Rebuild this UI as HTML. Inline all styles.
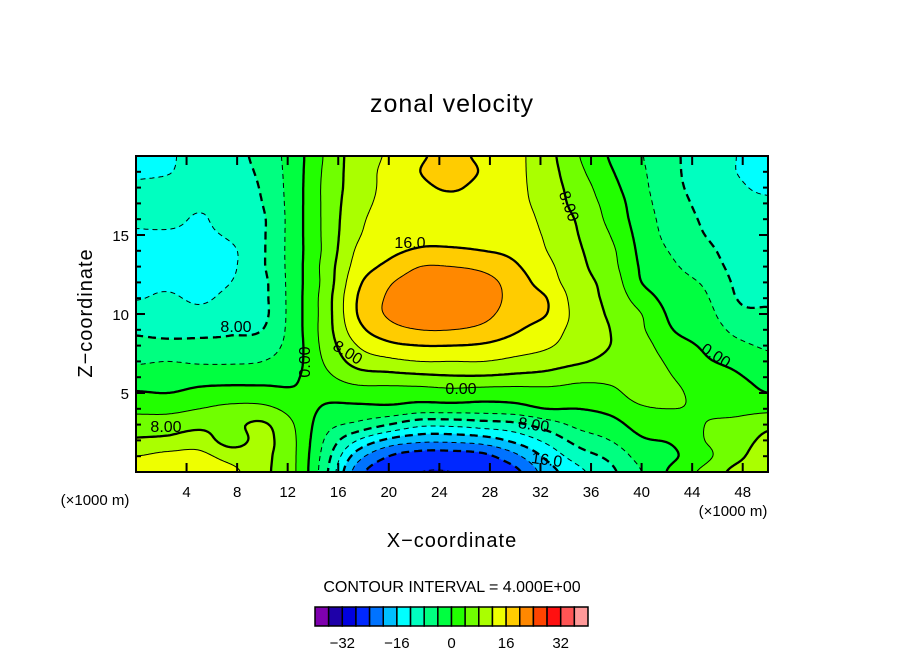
<!DOCTYPE html>
<html><head><meta charset="utf-8">
<style>
html,body{margin:0;padding:0;background:#fff;}
#wrap{position:relative;width:904px;height:654px;overflow:hidden;font-family:"Liberation Sans",sans-serif;}
#field{position:absolute;left:136px;top:156px;}
#over{position:absolute;left:0;top:0;}
text{font-family:"Liberation Sans",sans-serif;fill:#000;}
</style></head>
<body>
<div id="wrap">
<canvas id="field" width="632" height="316"></canvas>
<svg id="over" width="904" height="654">
  <text x="452" y="112" font-size="25" text-anchor="middle" letter-spacing="1">zonal velocity</text>
  <g id="lines"></g>
  <g id="clabels">
    <text x="166" y="432" font-size="16" text-anchor="middle">8.00</text>
    <text x="236" y="332" font-size="16" text-anchor="middle">8.00</text>
    <text x="410" y="248" font-size="16" text-anchor="middle">16.0</text>
    <text x="0" y="0" font-size="16" text-anchor="middle" transform="translate(310,362) rotate(-90)">0.00</text>
    <text x="0" y="0" font-size="16" text-anchor="middle" transform="translate(345,357) rotate(32)">8.00</text>
    <text x="461" y="394" font-size="16" text-anchor="middle">0.00</text>
    <text x="0" y="0" font-size="16" text-anchor="middle" transform="translate(533,430) rotate(8)">8.00</text>
    <text x="0" y="0" font-size="16" text-anchor="middle" transform="translate(546,465) rotate(8)">16.0</text>
    <text x="0" y="0" font-size="16" text-anchor="middle" transform="translate(564,208) rotate(70)">8.00</text>
    <text x="0" y="0" font-size="16" text-anchor="middle" transform="translate(713,360) rotate(33)">0.00</text>
  </g>
  <rect x="136" y="156" width="632" height="316" fill="none" stroke="#000" stroke-width="2"/>
  <g id="ticks"></g>
  <g id="xlabels"></g>
  <g id="zlabels"></g>
  <text x="95" y="505" font-size="15" text-anchor="middle">(×1000 m)</text>
  <text x="733" y="516" font-size="15" text-anchor="middle">(×1000 m)</text>
  <text x="452" y="547" font-size="20" text-anchor="middle" letter-spacing="1">X−coordinate</text>
  <text x="0" y="0" font-size="20" text-anchor="middle" letter-spacing="1" transform="translate(92,313) rotate(-90)">Z−coordinate</text>
  <text x="452" y="592" font-size="16" text-anchor="middle">CONTOUR INTERVAL = 4.000E+00</text>
  <g id="cbar"></g>
  <g id="cbarlabels"></g>
</svg>
</div>
<script>
// ---- data: zonal velocity sampled on a grid (columns of z = 20 .. 0) ----
const xValues = [0,2.5,5,7.5,10,12.5,15,17.5,20,22.5,25,27.5,30,32.5,35,37.5,40,42.5,45,47.5,50];
const zValues = [20,19,18,17,16,15,14,13,12,11,10,9,8,7,6,5,4,3,2,1,0];
const uCol00 = [-13,-12.5,-11.5,-11,-11.5,-12.3,-12.5,-12.5,-12.5,-12.2,-10,-8.5,-7,-4.5,-2,0.3,3,6,8.5,12,14];
const uCol01 = [-12.5,-12.2,-11,-10.5,-11,-12.5,-13,-12.5,-12.5,-11.5,-10,-9,-7,-4,-2,0,3,6,9,13,14];
const uCol02 = [-10.5,-10.5,-11,-11.5,-12.3,-12.5,-12.2,-12.5,-13,-12.5,-11,-9,-7,-4.5,-1.5,1,4,7,10,13,14];
const uCol03 = [-9.5,-10,-11,-11,-10.5,-11.5,-12.5,-12.5,-12,-11,-10,-8.5,-7,-4.5,-1.5,1.5,5,7,6.5,10.5,13];
const uCol04 = [-6.5,-7,-7.5,-8,-8.5,-8.5,-8.5,-8.5,-9,-9,-9,-8,-6,-4,-1.5,1.5,5,8.5,9,9,9];
const uCol05 = [-2,-2,-2,-2,-2,-2,-2,-2,-2,-2,-2,-2,-2,-1.5,-0.5,0.5,2.5,4,4.5,4.5,4.5];
const uCol06 = [4.5,4.8,5,5,5,5,5,5.5,5.5,6,6,6,5.5,4.5,3,1,-0.5,-2.5,-4.5,-6,-7];
const uCol07 = [10,10,10,10.5,11,11.5,12.5,13.5,15,16,16,14.5,12,9.5,6,2,-1,-5,-12,-18,-22];
const uCol08 = [12.5,13,13,13,13.5,14,15,17,19.5,20.5,20.5,18.5,15,11,6.5,2,-1,-8,-17,-24,-27];
const uCol09 = [15.5,16,15,14,14.5,15,16.5,20,22,22.5,22,20,16,12,7,2,-2,-11,-19,-26,-28];
const uCol10 = [17,18,16.5,14.5,14.5,15,16.5,20,22.5,23,22,20,16,12,7.5,2.5,-2,-11,-19,-26,-28];
const uCol11 = [15,15.5,14.5,14,14,14.5,16,19,21.5,22,21,19,15.5,12,7.5,2,-2,-10,-18,-25,-27];
const uCol12 = [13,13,13,13,13.5,14,15,16.5,18,18.5,18,16.5,14,11,7,2,-1.5,-9,-15,-21,-25];
const uCol13 = [9.5,9.8,10,10.5,11,11.5,12,13,14,16,16,14,12.5,10,6.5,2.5,0,-6,-11,-15,-18];
const uCol14 = [4.2,5,6,6.5,7.5,8,8.5,9,9.5,10,10.5,10.5,10,8.5,5,2.5,0,-3,-6.5,-10,-13];
const uCol15 = [-0.3,0.5,1.5,2.5,3,4,5,5.5,6.5,7,7.5,8,8,7,5,3,1,-1.5,-4,-7,-9];
const uCol16 = [-3.8,-3.4,-3,-2.5,-2,-1.5,-1,-0.5,0,2,4,4.5,5.5,6,6,5.5,3.5,1.5,-0.5,-2.5,-4];
const uCol17 = [-7.3,-7.2,-7,-6.5,-6,-5.5,-4.5,-3.5,-2.5,-1.8,-1,0,1.5,3,4,4.5,4,2,0.5,-0.5,1];
const uCol18 = [-10,-10,-9.5,-9,-8.5,-8,-7,-6,-4.5,-3.5,-2.5,-1.5,-0.5,0.5,2,3,3.5,4,4,3,5];
const uCol19 = [-12,-12,-11.5,-11,-10.5,-10,-9.5,-9,-8.5,-8,-7,-5,-3,-1,0.5,2,3,5,6,7,9];
const uCol20 = [-13.5,-13,-12.5,-11.5,-11,-10.5,-10,-9.5,-9,-8.5,-7.5,-6,-4.5,-3,-1.5,0,3,7,9,10,9.5];
const uColumns = [uCol00,uCol01,uCol02,uCol03,uCol04,uCol05,uCol06,uCol07,uCol08,uCol09,uCol10,uCol11,uCol12,uCol13,uCol14,uCol15,uCol16,uCol17,uCol18,uCol19,uCol20];
const contourLevels = [-36,-32,-28,-24,-20,-16,-12,-8,-4,0,4,8,12,16,20,24,28,32,36];
const colorbarLabels = [-32,-16,0,16,32];
const xTickLabels = [4,8,12,16,20,24,28,32,36,40,44,48];
const zTickLabels = [5,10,15];

// ---- presentation ----
const palette = ['#7F00AF','#1E00A8','#0000E0','#0028FF','#0073FF','#00BFFF','#00FFFF','#00FFC0','#00FF80','#00FF40','#22FF00','#70FF00','#AAFF00','#EEFF00','#FFCC00','#FF8800','#FF4400','#FF1010','#FF5555','#FF9999'];
const PX0=136, PY0=156, PW=632, PH=316, XMIN=0, XMAX=50, ZMIN=0, ZMAX=20;
const xScale = x => PX0 + (x-XMIN)/(XMAX-XMIN)*PW;
const zScale = z => PY0 + (ZMAX-z)/(ZMAX-ZMIN)*PH;
const NS='http://www.w3.org/2000/svg';

function cr(p0,p1,p2,p3,t){return 0.5*(2*p1+(-p0+p2)*t+(2*p0-5*p1+4*p2-p3)*t*t+(-p0+3*p1-3*p2+p3)*t*t*t);}
const nC=uColumns.length, nR=zValues.length;
function g(i,j){i=Math.max(0,Math.min(nC-1,i));j=Math.max(0,Math.min(nR-1,j));return uColumns[i][j];}
function sample(x,z){
  const fi=(x-xValues[0])/(xValues[1]-xValues[0]);
  const fj=(zValues[0]-z)/(zValues[0]-zValues[1]);
  let i=Math.floor(fi), j=Math.floor(fj);
  if(i>=nC-1)i=nC-2; if(j>=nR-1)j=nR-2; if(i<0)i=0; if(j<0)j=0;
  const tx=fi-i, tz=fj-j;
  const r=[];
  for(let k=-1;k<=2;k++){r.push(cr(g(i-1,j+k),g(i,j+k),g(i+1,j+k),g(i+2,j+k),tx));}
  return cr(r[0],r[1],r[2],r[3],tz);
}
function colorIndex(v){let k=Math.floor(v/4)+10;return Math.max(0,Math.min(19,k));}
function hex(h){return [parseInt(h.substr(1,2),16),parseInt(h.substr(3,2),16),parseInt(h.substr(5,2),16)];}
const rgb=palette.map(hex);

// fill
const cv=document.getElementById('field'), ctx=cv.getContext('2d');
const img=ctx.createImageData(PW,PH);
for(let py=0;py<PH;py++){
  const z=ZMAX-(py+0.5)/PH*(ZMAX-ZMIN);
  for(let px=0;px<PW;px++){
    const x=XMIN+(px+0.5)/PW*(XMAX-XMIN);
    const c=rgb[colorIndex(sample(x,z))];
    const o=(py*PW+px)*4;
    img.data[o]=c[0];img.data[o+1]=c[1];img.data[o+2]=c[2];img.data[o+3]=255;
  }
}
ctx.putImageData(img,0,0);

// contour lines
const STEP=2, nx=PW/STEP+1, nz=PH/STEP+1;
const V=[];
for(let j=0;j<nz;j++){const row=new Float64Array(nx);const z=ZMAX-j*STEP/PH*(ZMAX-ZMIN);
  for(let i=0;i<nx;i++){row[i]=sample(XMIN+i*STEP/PW*(XMAX-XMIN),z);} V.push(row);}
const linesG=document.getElementById('lines');
contourLevels.forEach(L=>{
  const pts=new Map(); const adj=new Map(); const segs=[];
  function hk(i,j){return (j*nx+i)*2;} function vk(i,j){return (j*nx+i)*2+1;}
  function pt(key){
    if(pts.has(key))return; const base=key>>1, i=base%nx, j=(base-i)/nx;
    let x,y;
    if((key&1)===0){const a=V[j][i],b=V[j][i+1];const t=(L-a)/(b-a);x=(i+t)*STEP;y=j*STEP;}
    else{const a=V[j][i],b=V[j+1][i];const t=(L-a)/(b-a);x=i*STEP;y=(j+t)*STEP;}
    pts.set(key,[PX0+x,PY0+y]);
  }
  function addSeg(k1,k2){pt(k1);pt(k2);const id=segs.length;segs.push([k1,k2]);
    if(!adj.has(k1))adj.set(k1,[]);if(!adj.has(k2))adj.set(k2,[]);adj.get(k1).push(id);adj.get(k2).push(id);}
  for(let j=0;j<nz-1;j++)for(let i=0;i<nx-1;i++){
    const a=V[j][i]>=L,b=V[j][i+1]>=L,c=V[j+1][i+1]>=L,d=V[j+1][i]>=L;
    const e=[];
    if(a!==b)e.push(hk(i,j)); if(b!==c)e.push(vk(i+1,j)); if(c!==d)e.push(hk(i,j+1)); if(d!==a)e.push(vk(i,j));
    if(e.length===2)addSeg(e[0],e[1]);
    else if(e.length===4){const ctr=(V[j][i]+V[j][i+1]+V[j+1][i+1]+V[j+1][i])/4>=L;
      if(a!==ctr){addSeg(e[0],e[3]);addSeg(e[1],e[2]);}else{addSeg(e[0],e[1]);addSeg(e[2],e[3]);}}
  }
  const used=new Uint8Array(segs.length); let d='';
  for(let s=0;s<segs.length;s++){
    if(used[s])continue; used[s]=1;
    let chain=[segs[s][0],segs[s][1]];
    for(let dir=0;dir<2;dir++){
      while(true){const end=chain[chain.length-1];const list=adj.get(end);let nxt=-1;
        for(const id of list){if(!used[id]){nxt=id;break;}}
        if(nxt<0)break; used[nxt]=1; const sg=segs[nxt]; chain.push(sg[0]===end?sg[1]:sg[0]);}
      chain.reverse();
    }
    d+='M'+chain.map(k=>{const p=pts.get(k);return p[0].toFixed(1)+' '+p[1].toFixed(1);}).join('L');
  }
  if(!d)return;
  const thick=(L%8===0);
  const p=document.createElementNS(NS,'path');
  p.setAttribute('d',d);p.setAttribute('fill','none');p.setAttribute('stroke','#000');
  p.setAttribute('stroke-width',thick?2.3:1);p.setAttribute('stroke-linejoin','round');
  if(L<0)p.setAttribute('stroke-dasharray',thick?'8 5':'5 4');
  
  
  linesG.appendChild(p);
});

// ticks
const tg=document.getElementById('ticks');
function tick(x1,y1,x2,y2){const l=document.createElementNS(NS,'line');l.setAttribute('x1',x1);l.setAttribute('y1',y1);l.setAttribute('x2',x2);l.setAttribute('y2',y2);l.setAttribute('stroke','#000');l.setAttribute('stroke-width','2');
  
  
  tg.appendChild(l);}
for(let z=1;z<20;z++){const y=zScale(z);const len=(z%5===0)?9:5;tick(PX0,y,PX0+len,y);tick(PX0+PW,y,PX0+PW-len,y);}
xTickLabels.forEach(x=>{const px=xScale(x);tick(px,PY0+PH,px,PY0+PH-9);tick(px,PY0,px,PY0+9);});
const xl=document.getElementById('xlabels');
xTickLabels.forEach(x=>{const t=document.createElementNS(NS,'text');t.setAttribute('x',xScale(x));t.setAttribute('y',497);t.setAttribute('font-size','15');t.setAttribute('text-anchor','middle');t.textContent=x;
  
  
  xl.appendChild(t);});
const zl=document.getElementById('zlabels');
zTickLabels.forEach(z=>{const t=document.createElementNS(NS,'text');t.setAttribute('x',129);t.setAttribute('y',zScale(z)+6);t.setAttribute('font-size','15');t.setAttribute('text-anchor','end');t.textContent=z;
  
  
  zl.appendChild(t);});

// colorbar
const cb=document.getElementById('cbar'), CBX=315, CBW=13.65, CBY=607, CBH=19;
palette.forEach((c,k)=>{const r=document.createElementNS(NS,'rect');r.setAttribute('x',CBX+k*CBW);r.setAttribute('y',CBY);r.setAttribute('width',CBW);r.setAttribute('height',CBH);r.setAttribute('fill',c);r.setAttribute('stroke','#000');r.setAttribute('stroke-width','1.5');
  
  
  cb.appendChild(r);});
const cbl=document.getElementById('cbarlabels');
colorbarLabels.forEach(v=>{const t=document.createElementNS(NS,'text');t.setAttribute('x',CBX+(v+40)/4*CBW);t.setAttribute('y',648);t.setAttribute('font-size','15');t.setAttribute('text-anchor','middle');t.textContent=(v<0?'−'+(-v):v);
  
  
  cbl.appendChild(t);});
</script>
</body></html>
